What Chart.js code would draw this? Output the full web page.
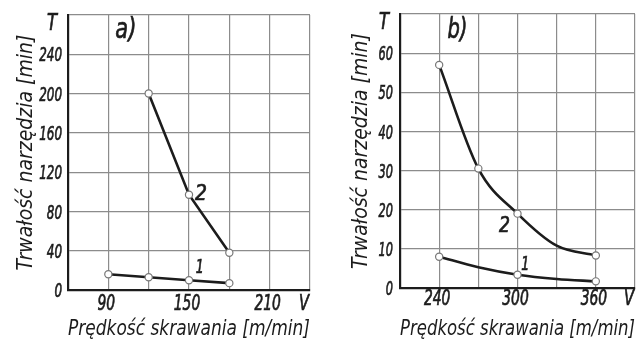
<!DOCTYPE html>
<html>
<head>
<meta charset="utf-8">
<script src="https://cdn.jsdelivr.net/npm/chart.js@4/dist/chart.umd.min.js"></script>
<style>
  html, body { margin: 0; padding: 0; background: #fff; }
  #wrap { position: relative; width: 641px; height: 342px; overflow: hidden; background: #fff; }
  .panel { position: absolute; top: 0; }
  #pa { left: 0; }
  #pb { left: 320px; }
</style>
</head>
<body>
<div id="wrap">
  <div class="panel" id="pa"><canvas id="ca" width="320" height="342"></canvas></div>
  <div class="panel" id="pb"><canvas id="cb" width="321" height="342"></canvas></div>
</div>
<script>
// Panel a) – tool life T [min] against cutting speed V [m/min]
const speedA1 = [90, 120, 150, 180];
const lifeA1 = [16, 13, 10, 7];
const speedA2 = [120, 150, 180];
const lifeA2 = [200, 97, 38];
const xLabelsA = [90, 150, 210];
const yLabelsA = [0, 40, 80, 120, 160, 200, 240];

// Panel b)
const speedB1 = [240, 270, 300, 330, 360];
const lifeB1 = [8, 5.3, 3.4, 2.3, 1.7];
const circlesB1 = [240, 300, 360];        // speeds marked with a circle
const speedB2 = [240, 270, 300, 330, 360];
const lifeB2 = [57, 30.5, 19, 10.8, 8.3];
const circlesB2 = [240, 270, 300, 360];
const xLabelsB = [240, 300, 360];
const yLabelsB = [0, 10, 20, 30, 40, 50, 60];

const yTitle = 'Trwałość narzędzia [min]';
const xTitle = 'Prędkość skrawania [m/min]';

const FONT = "'DejaVu Sans Condensed', 'DejaVu Sans', sans-serif";
const INK = '#1c1c1c';
const GRID = '#8c8c8c';

const pts = (xs, ys) => xs.map((v, i) => ({ x: v, y: ys[i] }));

// narrow slanted lettering: squeeze each string into its given width,
// with a thin outline so the squeezed strokes keep their weight
function letter(ctx, text, px, py, size, width) {
  ctx.font = `italic ${size}px ${FONT}`;
  ctx.fillText(text, px, py, width);
  ctx.strokeText(text, px, py, width);
}

// tick numbers, curve numbers, panel letter and the axis symbols T / V
const notesPlugin = {
  id: 'notes',
  afterDraw(chart, args, o) {
    const { ctx, chartArea, scales: { x, y } } = chart;
    ctx.save();
    ctx.fillStyle = INK;
    ctx.strokeStyle = INK;
    ctx.lineWidth = 0.7;
    ctx.textBaseline = 'middle';

    ctx.textAlign = 'center';
    x.ticks.forEach(t => {
      if (!o.xLabels.includes(t.value)) return;
      const s = String(t.value);
      letter(ctx, s, x.getPixelForValue(t.value) - 2, chartArea.bottom + o.xGap, 22, s.length * 8.8);
    });
    ctx.textAlign = 'right';
    y.ticks.forEach(t => {
      if (!o.yLabels.includes(t.value)) return;
      const s = String(t.value);
      letter(ctx, s, chartArea.left - o.yGap, y.getPixelForValue(t.value) + 2, 20, s.length * o.yCharW);
    });

    ctx.textAlign = 'center';
    for (const n of o.items) {
      letter(ctx, n.text, x.getPixelForValue(n.x), y.getPixelForValue(n.y), n.size, n.w);
    }
    letter(ctx, 'T', chartArea.left - 16, chartArea.top + 9, 23, 10);
    letter(ctx, 'V', chartArea.right - 6, chartArea.bottom + o.xGap, 22, 10);
    ctx.restore();
  }
};

function lineSet(data, smooth, circles) {
  return {
    data,
    borderColor: INK,
    borderWidth: 2.6,
    pointRadius: c => (!circles || circles.includes(c.raw && c.raw.x) ? 3.6 : 0),
    pointBorderWidth: 1.2,
    pointBorderColor: '#777',
    pointBackgroundColor: '#fff',
    tension: 0,
    cubicInterpolationMode: smooth ? 'monotone' : 'default',
    clip: false
  };
}

function buildOptions(p) {
  return {
    responsive: false,
    animation: false,
    devicePixelRatio: 1,
    layout: { padding: { top: p.padTop, right: p.padRight, left: 0, bottom: 0 } },
    plugins: {
      legend: { display: false },
      tooltip: { enabled: false },
      notes: {
        items: p.notes, xLabels: p.xLabels, yLabels: p.yLabels,
        xGap: p.xGap, yGap: p.yGap, yCharW: p.yCharW
      }
    },
    scales: {
      x: {
        type: 'linear',
        min: p.xMin, max: p.xMax,
        ticks: { stepSize: p.xStep, autoSkip: false, display: false },
        grid: { color: GRID, lineWidth: 1.2, drawTicks: false },
        border: { display: true, color: INK, width: 2.2 },
        title: {
          display: true, text: xTitle, color: INK,
          font: { family: FONT, size: 21, style: 'italic' },
          padding: { top: 0, bottom: 0 }
        },
        afterFit: s => { s.height = p.xHeight; }
      },
      y: {
        type: 'linear',
        min: p.yMin, max: p.yMax,
        ticks: { stepSize: p.yStep, autoSkip: false, display: false },
        grid: { color: GRID, lineWidth: 1.2, drawTicks: false },
        border: { display: true, color: INK, width: 2.2 },
        title: {
          display: true, text: yTitle, color: INK,
          font: { family: FONT, size: 21, style: 'italic' },
          padding: { top: p.yTitlePad, bottom: 0 }
        },
        afterFit: s => { s.width = p.yWidth; }
      }
    }
  };
}

new Chart(document.getElementById('ca'), {
  type: 'line',
  data: {
    datasets: [
      lineSet(pts(speedA1, lifeA1), false),
      lineSet(pts(speedA2, lifeA2), false)
    ]
  },
  options: buildOptions({
    padTop: 15, padRight: 10, xHeight: 52, yWidth: 68, yTitlePad: 14,
    xGap: 14, yGap: 6, yCharW: 7.6,
    xMin: 60, xMax: 240, xStep: 30, xLabels: xLabelsA,
    yMin: 0, yMax: 280, yStep: 40, yLabels: yLabelsA,
    notes: [
      { text: 'a)', x: 103, y: 264, size: 28, w: 21 },
      { text: '2', x: 159, y: 97, size: 22, w: 12 },
      { text: '1', x: 158, y: 22, size: 19, w: 8 }
    ]
  }),
  plugins: [notesPlugin]
});

new Chart(document.getElementById('cb'), {
  type: 'line',
  data: {
    datasets: [
      lineSet(pts(speedB1, lifeB1), true, circlesB1),
      lineSet(pts(speedB2, lifeB2), true, circlesB2)
    ]
  },
  options: buildOptions({
    padTop: 14, padRight: 6, xHeight: 54, yWidth: 80, yTitlePad: 29,
    xGap: 11, yGap: 7, yCharW: 7.2,
    xMin: 210, xMax: 390, xStep: 30, xLabels: xLabelsB,
    yMin: 0, yMax: 70, yStep: 10, yLabels: yLabelsB,
    notes: [
      { text: 'b)', x: 254, y: 65.7, size: 28, w: 20 },
      { text: '2', x: 290, y: 15.6, size: 21, w: 11 },
      { text: '1', x: 306, y: 5.9, size: 19, w: 8 }
    ]
  }),
  plugins: [notesPlugin]
});
</script>
</body>
</html>
